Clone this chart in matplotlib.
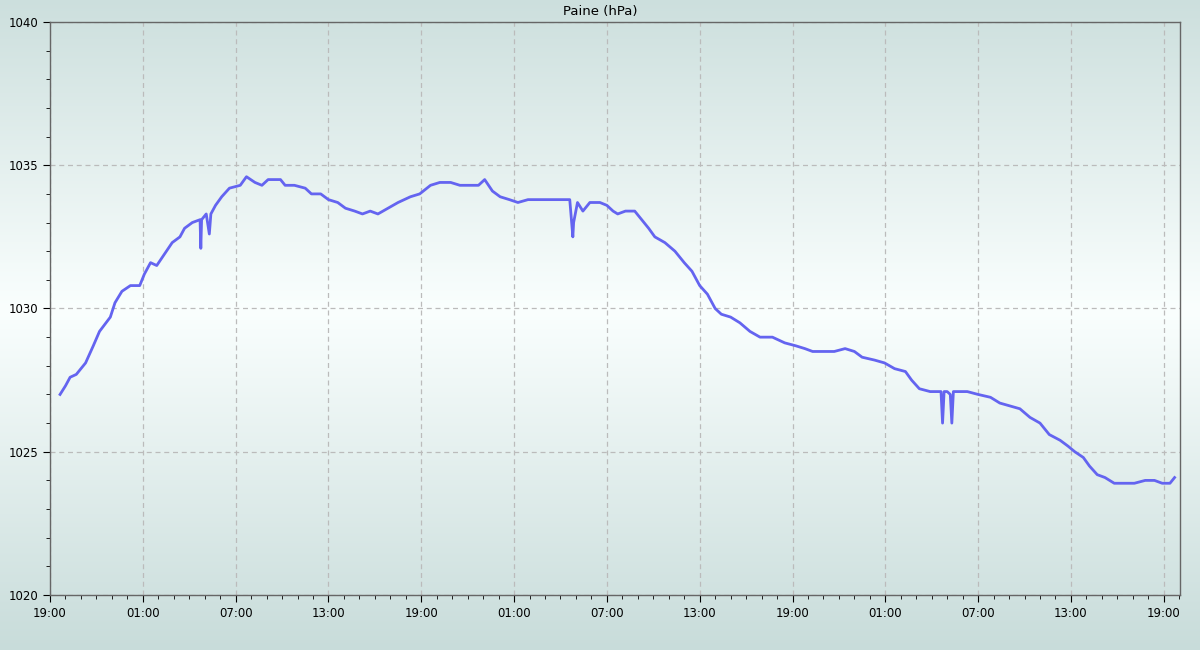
import numpy as np
import matplotlib
matplotlib.use('Agg')
import matplotlib.pyplot as plt
from matplotlib.ticker import MultipleLocator, FixedLocator

# hours since 19:00 of first day, pressure in hPa
hours = [0.65, 1.0, 1.3, 1.7, 2.3, 2.8, 3.2, 3.9, 4.2, 4.65, 5.2, 5.8, 6.1, 6.5, 6.9,
         7.4, 7.9, 8.4, 8.7, 9.2, 9.7, 9.75, 9.8, 10.1, 10.3, 10.4, 10.7, 11.1, 11.6,
         12.3, 12.7, 13.25, 13.7, 14.1, 14.9, 15.2, 15.8, 16.5, 16.9, 17.5, 18.0,
         18.6, 19.1, 19.7, 20.2, 20.7, 21.2, 21.85, 22.5, 23.3, 23.9, 24.6, 25.2,
         25.9, 26.5, 27.1, 27.7, 28.1, 28.6, 29.1, 29.7, 30.25, 30.9, 31.7, 33.6,
         33.8, 33.85, 34.1, 34.45, 34.9, 35.55, 36.0, 36.4, 36.7, 37.2, 37.8, 38.1,
         38.7, 39.1, 39.75, 40.4, 41.0, 41.5, 42.0, 42.5, 43.0, 43.4, 44.0, 44.6,
         45.25, 45.9, 46.7, 47.5, 48.2, 48.8, 49.3, 50.1, 50.7, 51.4, 52.0, 52.5,
         53.3, 53.95, 54.6, 55.3, 55.7, 56.2, 56.9, 57.6, 57.7, 57.8, 58.0, 58.2,
         58.3, 58.4, 58.8, 59.3, 60.0, 60.8, 61.4, 62.05, 62.7, 63.35, 64.0, 64.6,
         65.3, 65.8, 66.25, 66.8, 67.2, 67.7, 68.2, 68.8, 69.5, 70.1, 70.8, 71.4,
         71.9, 72.4, 72.7]
pressure = [1027.0, 1027.3, 1027.6, 1027.7, 1028.1, 1028.7, 1029.2, 1029.7, 1030.2,
            1030.6, 1030.8, 1030.8, 1031.2, 1031.6, 1031.5, 1031.9, 1032.3, 1032.5,
            1032.8, 1033.0, 1033.1, 1032.1, 1033.1, 1033.3, 1032.6, 1033.3, 1033.6,
            1033.9, 1034.2, 1034.3, 1034.6, 1034.4, 1034.3, 1034.5, 1034.5, 1034.3,
            1034.3, 1034.2, 1034.0, 1034.0, 1033.8, 1033.7, 1033.5, 1033.4, 1033.3,
            1033.4, 1033.3, 1033.5, 1033.7, 1033.9, 1034.0, 1034.3, 1034.4, 1034.4,
            1034.3, 1034.3, 1034.3, 1034.5, 1034.1, 1033.9, 1033.8, 1033.7, 1033.8,
            1033.8, 1033.8, 1032.5, 1033.0, 1033.7, 1033.4, 1033.7, 1033.7, 1033.6,
            1033.4, 1033.3, 1033.4, 1033.4, 1033.2, 1032.8, 1032.5, 1032.3, 1032.0,
            1031.6, 1031.3, 1030.8, 1030.5, 1030.0, 1029.8, 1029.7, 1029.5, 1029.2,
            1029.0, 1029.0, 1028.8, 1028.7, 1028.6, 1028.5, 1028.5, 1028.5, 1028.6,
            1028.5, 1028.3, 1028.2, 1028.1, 1027.9, 1027.8, 1027.5, 1027.2, 1027.1,
            1027.1, 1026.0, 1027.1, 1027.1, 1027.0, 1026.0, 1027.1, 1027.1, 1027.1,
            1027.0, 1026.9, 1026.7, 1026.6, 1026.5, 1026.2, 1026.0, 1025.6, 1025.4,
            1025.2, 1025.0, 1024.8, 1024.5, 1024.2, 1024.1, 1023.9, 1023.9, 1023.9,
            1024.0, 1024.0, 1023.9, 1023.9, 1024.1]
tick_hours = [0, 6, 12, 18, 24, 30, 36, 42, 48, 54, 60, 66, 72]
tick_labels = ['19:00', '01:00', '07:00', '13:00', '19:00', '01:00', '07:00',
               '13:00', '19:00', '01:00', '07:00', '13:00', '19:00']

fig = plt.figure(figsize=(12, 6.5), dpi=100)

# background gradient over whole figure
bg = fig.add_axes([0, 0, 1, 1], zorder=0)
yy = np.linspace(0, 1, 650)[:, None]
d = np.abs(yy - 0.477) / 0.523
edge = np.array([200, 220, 218]) / 255.0
white = np.array([250, 255, 254]) / 255.0
grad = white + (edge - white) * d[..., None]
grad = np.repeat(grad, 2, axis=1)
bg.imshow(grad, aspect='auto', extent=[0, 1, 0, 1], origin='upper')
bg.axis('off')

ax = fig.add_axes([50/1200, 1 - 595/650, 1130/1200, 573/650], zorder=1)
ax.set_facecolor('none')
ax.plot(hours, pressure, color='#6464f0', linewidth=2.0)

ax.set_xlim(0, 73.05)
ax.set_ylim(1020, 1040)
ax.xaxis.set_major_locator(FixedLocator(tick_hours))
ax.set_xticklabels(tick_labels)
ax.xaxis.set_minor_locator(MultipleLocator(1))
ax.yaxis.set_major_locator(MultipleLocator(5))
ax.yaxis.set_minor_locator(MultipleLocator(1))
ax.tick_params(which='major', direction='out', length=5, labelsize=8.5, color='black')
ax.tick_params(which='minor', direction='out', length=3, color='black')
ax.grid(True, which='major', color='#bbbbbb', linestyle=(0, (4, 3)), linewidth=0.9)
for s in ax.spines.values():
    s.set_color('#666666')
    s.set_linewidth(1)
fig.text(0.5, 1 - 11/650, 'Paine (hPa)', fontsize=9.5, ha='center', va='center')

fig.savefig('out.png', dpi=100)
